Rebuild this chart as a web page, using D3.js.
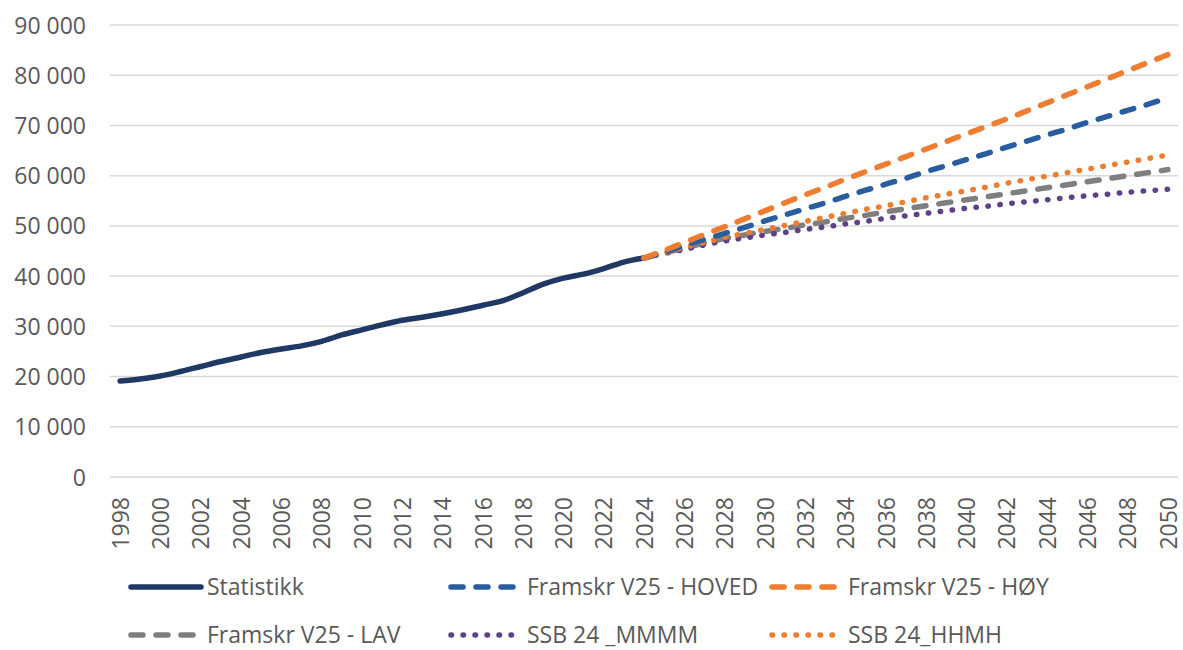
<!DOCTYPE html>
<html>
<head>
<meta charset="utf-8">
<title>Framskriving</title>
<script type="text/javascript" src="https://cdn.jsdelivr.net/npm/d3@7"></script>
<style type="text/css">
  body { margin: 0; background: #ffffff; }
  .tick_text { font-family: "Open Sans", sans-serif; font-size: 23px; fill: #595959; }
  .legend_text { font-family: "Open Sans", sans-serif; font-size: 23px; fill: #595959; }
</style>
</head>
<body>
<div class="chart"></div>
<script type="text/javascript">

// years on the category axis
var years = d3.range(1998, 2051);
var projYears = d3.range(2024, 2051);

var statistikk = [19100, 19500, 20100, 21000, 22000, 23000, 23900, 24800, 25500, 26100,
                  27000, 28300, 29300, 30300, 31200, 31800, 32500, 33300, 34200, 35100,
                  36700, 38400, 39600, 40400, 41500, 42800, 43600];
var hoved = [43600, 44800, 46100, 47300, 48500, 49700, 51000, 52200, 53400, 54600,
             55900, 57100, 58300, 59500, 60800, 62000, 63200, 64400, 65700, 66900,
             68100, 69300, 70600, 71800, 73000, 74200, 75500];
var hoy = [43600, 45100, 46700, 48300, 49800, 51400, 53000, 54600, 56200, 57700,
           59300, 60800, 62300, 63800, 65300, 66800, 68300, 69800, 71300, 72900,
           74500, 76100, 77700, 79300, 80900, 82500, 84100];
var lav = [43600, 44600, 45600, 46600, 47500, 48200, 48900, 49500, 50200, 50800,
           51500, 52100, 52800, 53400, 54000, 54600, 55200, 55800, 56400, 57000,
           57600, 58200, 58800, 59400, 60000, 60600, 61200];
var mmmm = [43600, 44500, 45300, 46200, 47000, 47600, 48200, 48700, 49300, 49800,
            50400, 50900, 51500, 52000, 52500, 53000, 53500, 53900, 54400, 54800,
            55200, 55600, 56000, 56300, 56700, 57000, 57300];
var hhmh = [43600, 44700, 45700, 46700, 47700, 48500, 49300, 50100, 50900, 51700,
            52500, 53300, 54000, 54800, 55600, 56300, 57000, 57700, 58500, 59200,
            59900, 60600, 61300, 62000, 62700, 63400, 64100];

var yTicks = [0, 10000, 20000, 30000, 40000, 50000, 60000, 70000, 80000, 90000];

var series = [
  { name: "Statistikk", yrs: years.slice(0, statistikk.length), vals: statistikk, color: "#203864", dash: null },
  { name: "Framskr V25 - LAV", yrs: projYears, vals: lav, color: "#7f7f7f", dash: "12 13" },
  { name: "SSB 24 _MMMM", yrs: projYears, vals: mmmm, color: "#5e4287", dash: "0.5 11.5" },
  { name: "SSB 24_HHMH", yrs: projYears, vals: hhmh, color: "#ed7d31", dash: "0.5 11.5" },
  { name: "Framskr V25 - HOVED", yrs: projYears, vals: hoved, color: "#2a5d9f", dash: "12 13" },
  { name: "Framskr V25 - HØY", yrs: projYears, vals: hoy, color: "#ed7d31", dash: "12 13" }
];

var w = 1183, h = 650;
var plotLeft = 110, plotRight = 1178, plotTop = 25, plotBottom = 477;

var svg = d3.select(".chart").append("svg").attr("width", w).attr("height", h);

var x = d3.scalePoint().domain(years).range([plotLeft, plotRight]).padding(0.5);
var y = d3.scaleLinear().domain([0, 90000]).range([plotBottom, plotTop]);

// gridlines
svg.append("g").selectAll("line").data(yTicks).enter().append("line")
  .attr("x1", plotLeft).attr("x2", plotRight)
  .attr("y1", function(d) { return y(d); }).attr("y2", function(d) { return y(d); })
  .attr("stroke", "#d9d9d9").attr("stroke-width", 1.5);

// y labels
var fmt = function(d) { return d3.format(",")(d).replace(/,/g, " "); };
var yAxis = svg.append("g").attr("transform", "translate(" + (plotLeft - 24) + ",0)")
  .call(d3.axisLeft(y).tickValues(yTicks).tickFormat(fmt).tickSize(0));
yAxis.select(".domain").remove();
yAxis.selectAll("text").attr("class", "tick_text").attr("x", 0).attr("dy", "0.35em");

// x labels, every second year, rotated
var xAxis = svg.append("g").attr("transform", "translate(0," + plotBottom + ")")
  .call(d3.axisBottom(x).tickValues(years.filter(function(d) { return d % 2 == 0; })).tickSize(0));
xAxis.select(".domain").remove();
xAxis.selectAll("text").attr("class", "tick_text")
  .attr("transform", "rotate(-90)")
  .attr("x", -20).attr("y", 0).attr("dy", "0.36em")
  .style("text-anchor", "end");

// lines
var line = d3.line().curve(d3.curveMonotoneX);
series.forEach(function(s) {
  var pts = s.yrs.map(function(yr, i) { return [x(yr), y(s.vals[i])]; });
  var p = svg.append("path").attr("d", line(pts))
    .attr("fill", "none").attr("stroke", s.color).attr("stroke-width", 5.5)
    .attr("stroke-linecap", "round").attr("stroke-linejoin", "round");
  if (s.dash) p.attr("stroke-dasharray", s.dash);
});

// legend
var legendItems = [
  { s: series[0], x: 131, y: 587 },
  { s: series[4], x: 451, y: 587 },
  { s: series[5], x: 772, y: 587 },
  { s: series[1], x: 131, y: 635 },
  { s: series[2], x: 451, y: 635 },
  { s: series[3], x: 772, y: 635 }
];
var lg = svg.append("g");
legendItems.forEach(function(it) {
  var l = lg.append("line").attr("x1", it.x).attr("x2", it.x + 70)
    .attr("y1", it.y).attr("y2", it.y)
    .attr("stroke", it.s.color).attr("stroke-width", 5.5).attr("stroke-linecap", "round");
  if (it.s.dash) l.attr("stroke-dasharray", it.s.dash);
  lg.append("text").attr("class", "legend_text")
    .attr("x", it.x + 76).attr("y", it.y).attr("dy", "0.35em")
    .text(it.s.name);
});

</script>
</body>
</html>
